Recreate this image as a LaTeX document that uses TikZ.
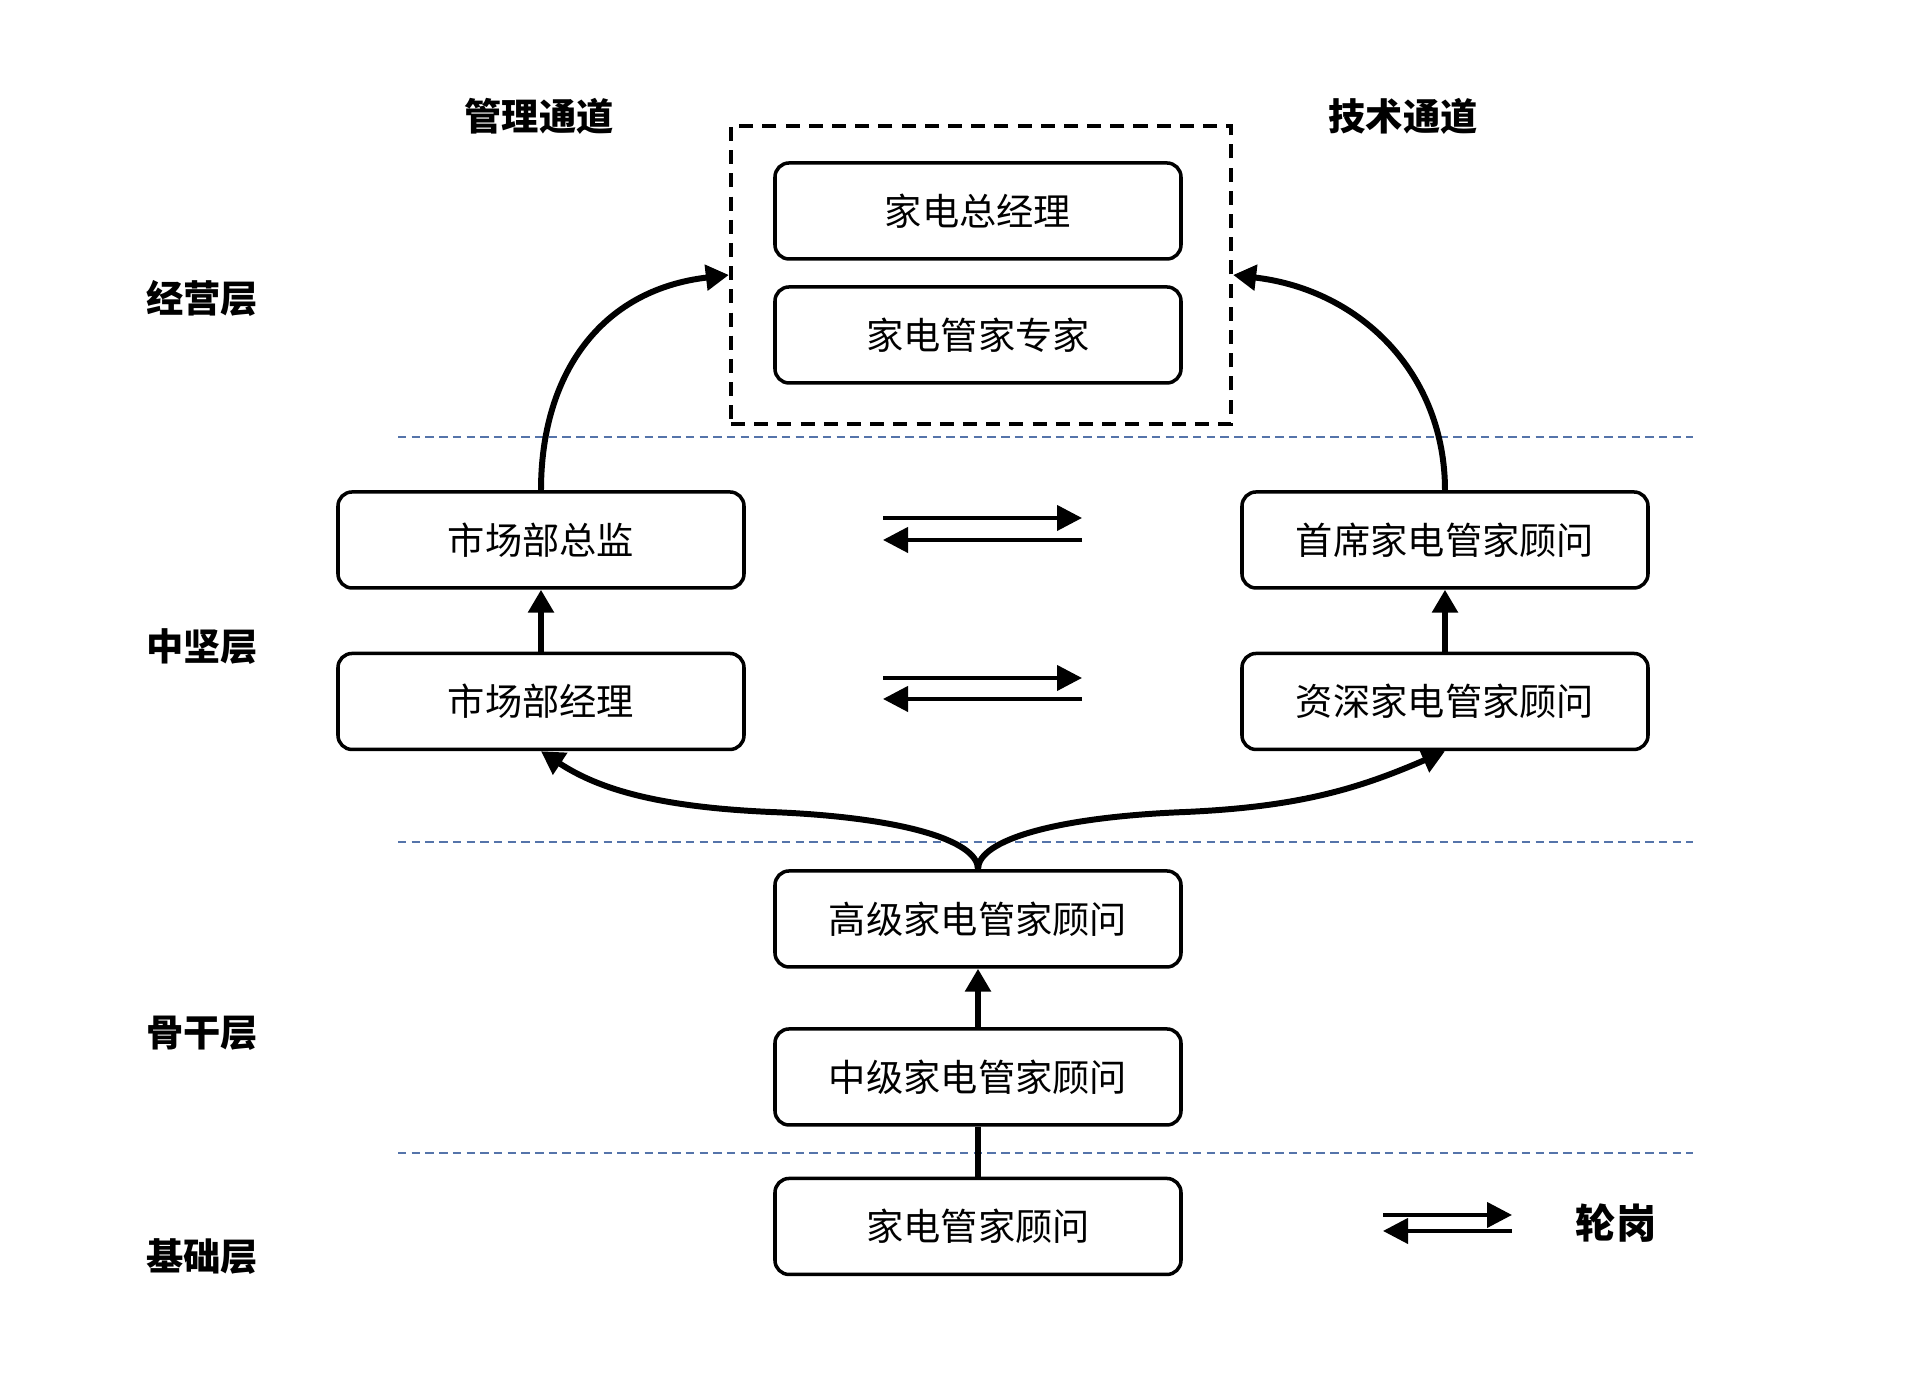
\documentclass[tikz,border=0pt]{standalone}
\usepackage{fontspec}
\setmainfont{Noto Sans CJK SC}
\definecolor{cpInk}{HTML}{000000}
\definecolor{cpGuide}{HTML}{5574AA}
\usetikzlibrary{calc,positioning,arrows.meta}

\tikzset{
  post/.style={draw=cpInk, line width=1pt, rounded corners=4pt,
    minimum width=4.06cm, minimum height=0.96cm, inner sep=0pt,
    font=\fontsize{10.6}{12}\selectfont},
  tier/.style={font=\fontsize{10.6}{12}\selectfont\bfseries},
  guide/.style={cpGuide, line width=0.6pt, dash pattern=on 2.4pt off 1.5pt},
  frame/.style={draw=cpInk, line width=1.2pt, dash pattern=on 4pt off 2.6pt,
    minimum width=5cm, minimum height=2.98cm},
  promote/.style={line width=1.7pt, -{Triangle[length=0.23cm,width=0.25cm]}},
  rotline/.style={line width=1.2pt, -{Triangle[length=0.25cm,width=0.25cm]}}
}

\begin{document}
\begin{tikzpicture}
  \useasboundingbox (0,0) rectangle (19.21,13.75);
  \fill[white] (0,0) rectangle (19.21,13.75);

  % layer separators
  \foreach \y in {9.38,5.33,2.22}
    \draw[guide] (3.98,\y) -- (16.93,\y);

  % channel titles and layers
  \node[tier] (mgmtch) at (5.39,12.59) {管理通道};
  \node[tier] (techch) at (14.03,12.59) {技术通道};
  \node[tier] (layerop) at (2.02,10.77) {经营层};
  \node[tier] (layermid) at (2.02,7.28) {中坚层};
  \node[tier] (layerbone) at (2.02,3.42) {骨干层};
  \node[tier] (layerbase) at (2.02,1.18) {基础层};

  % top posts
  \node[frame] (top) at (9.81,11.0) {};
  \node[post] (gm) at (9.78,11.64) {家电总经理};
  \node[post] (expert) at (9.78,10.40) {家电管家专家};

  % management channel
  \node[post] (director) at (5.41,8.35) {市场部总监};
  \node[post] (manager) at (5.41,6.735) {市场部经理};

  % technical channel
  \node[post] (chief) at (14.45,8.35) {首席家电管家顾问};
  \node[post] (senior) at (14.45,6.735) {资深家电管家顾问};

  % common trunk
  \node[post] (high) at (9.78,4.56) {高级家电管家顾问};
  \node[post] (middle) at (9.78,2.98) {中级家电管家顾问};
  \node[post] (base) at (9.78,1.485) {家电管家顾问};

  % promotions
  \draw[line width=1.7pt] (base.north) -- (middle.south);
  \draw[promote] (middle.north) -- (high.south);
  \draw[promote] (manager.north) -- (director.south);
  \draw[promote] (senior.north) -- (chief.south);
  \draw[promote] (high.north) .. controls (9.78,5.35) and (9.0,5.58) .. (7.7,5.63)
    .. controls (6.6,5.68) and (6.0,5.85) .. (manager.south);
  \draw[promote] (high.north) .. controls (9.78,5.35) and (10.56,5.58) .. (11.86,5.63)
    .. controls (12.96,5.68) and (13.56,5.85) .. (senior.south);
  \draw[promote] (director.north) .. controls (5.41,10.0) and (6.0,10.85) .. (top.west);
  \draw[promote] (chief.north) .. controls (14.45,10.0) and (13.62,10.85) .. (top.east);

  % rotation between channels
  \coordinate (rotAl) at (8.83,8.57);
  \coordinate (rotAr) at (10.82,8.57);
  \coordinate (rotBl) at (8.83,8.35);
  \coordinate (rotBr) at (10.82,8.35);
  \coordinate (rotCl) at (8.83,6.97);
  \coordinate (rotCr) at (10.82,6.97);
  \coordinate (rotDl) at (8.83,6.76);
  \coordinate (rotDr) at (10.82,6.76);
  \draw[rotline] (rotAl) -- (rotAr);
  \draw[rotline] (rotBr) -- (rotBl);
  \draw[rotline] (rotCl) -- (rotCr);
  \draw[rotline] (rotDr) -- (rotDl);

  % legend
  \coordinate (keyAl) at (13.83,1.60);
  \coordinate (keyAr) at (15.12,1.60);
  \coordinate (keyBl) at (13.83,1.44);
  \coordinate (keyBr) at (15.12,1.44);
  \draw[rotline] (keyAl) -- (keyAr);
  \draw[rotline] (keyBr) -- (keyBl);
  \node[font=\fontsize{11.5}{13}\selectfont\bfseries] (keytext) at (16.16,1.52) {轮岗};
\end{tikzpicture}
\end{document}
